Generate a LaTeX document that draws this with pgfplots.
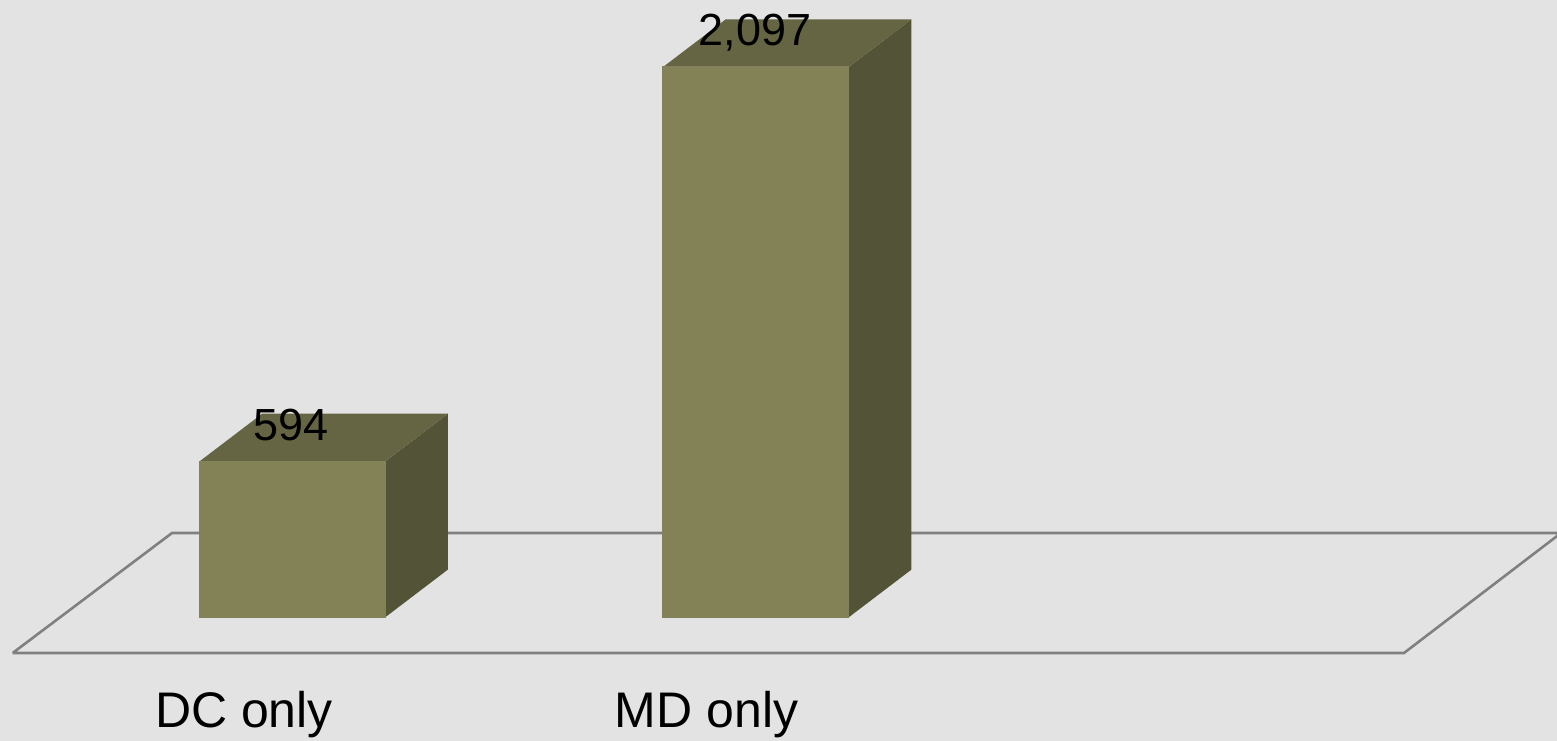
\documentclass[border=0pt]{standalone}
\usepackage{pgfplots}
\pgfplotsset{compat=1.18}
\usepackage{fontspec}
\setmainfont{Liberation Sans}
\definecolor{bgcol}{HTML}{E3E3E3}
\definecolor{frontcol}{HTML}{838156}
\definecolor{topcol}{HTML}{666543}
\definecolor{sidecol}{HTML}{535338}
\definecolor{floorcol}{HTML}{808080}
\begin{document}
\begin{tikzpicture}
\begin{axis}[
  scale only axis,
  width=778.5bp, height=370.5bp,
  xmin=0, xmax=1557,
  ymin=-471.4, ymax=2352.3,
  axis line style={draw=none},
  xtick=\empty, ytick=\empty,
  axis background/.style={fill=bgcol},
  clip=true,
]
% floor
\addplot[draw=floorcol, line width=1.3bp, fill=bgcol] coordinates {(12.7,-136.0) (1404,-136.0) (1561,321.2) (172,321.2) (12.7,-136.0)};
% side faces
\addplot[fill=sidecol, draw=none] coordinates {(385.2,0) (447.9,181.8) (447.9,775.8) (385.2,594) (385.2,0)};
\addplot[fill=sidecol, draw=none] coordinates {(848.75,0) (911.45,181.8) (911.45,2278.8) (848.75,2097) (848.75,0)};
% top faces
\addplot[fill=topcol, draw=none] coordinates {(199.5,594) (385.2,594) (447.9,775.8) (262.2,775.8) (199.5,594)};
\addplot[fill=topcol, draw=none] coordinates {(663.05,2097) (848.75,2097) (911.45,2278.8) (725.75,2278.8) (663.05,2097)};
% front faces
\addplot[ybar, bar width=185.7, fill=frontcol, draw=frontcol!85!gray, line width=0.6bp,
  point meta=explicit symbolic,
  nodes near coords,
  every node near coord/.append style={anchor=base, yshift=10.5bp, xshift=-0.5bp, font=\fontsize{22.5bp}{26bp}\selectfont, text=black}]
  coordinates {(292.35,594) [594] (755.9,2097) [{2,097}]};
% category labels
\node[anchor=base, font=\fontsize{25bp}{30bp}\selectfont] at (axis cs:244,-420) {DC only};
\node[anchor=base, font=\fontsize{25bp}{30bp}\selectfont] at (axis cs:706.5,-420) {MD only};
\end{axis}
\end{tikzpicture}
\end{document}
